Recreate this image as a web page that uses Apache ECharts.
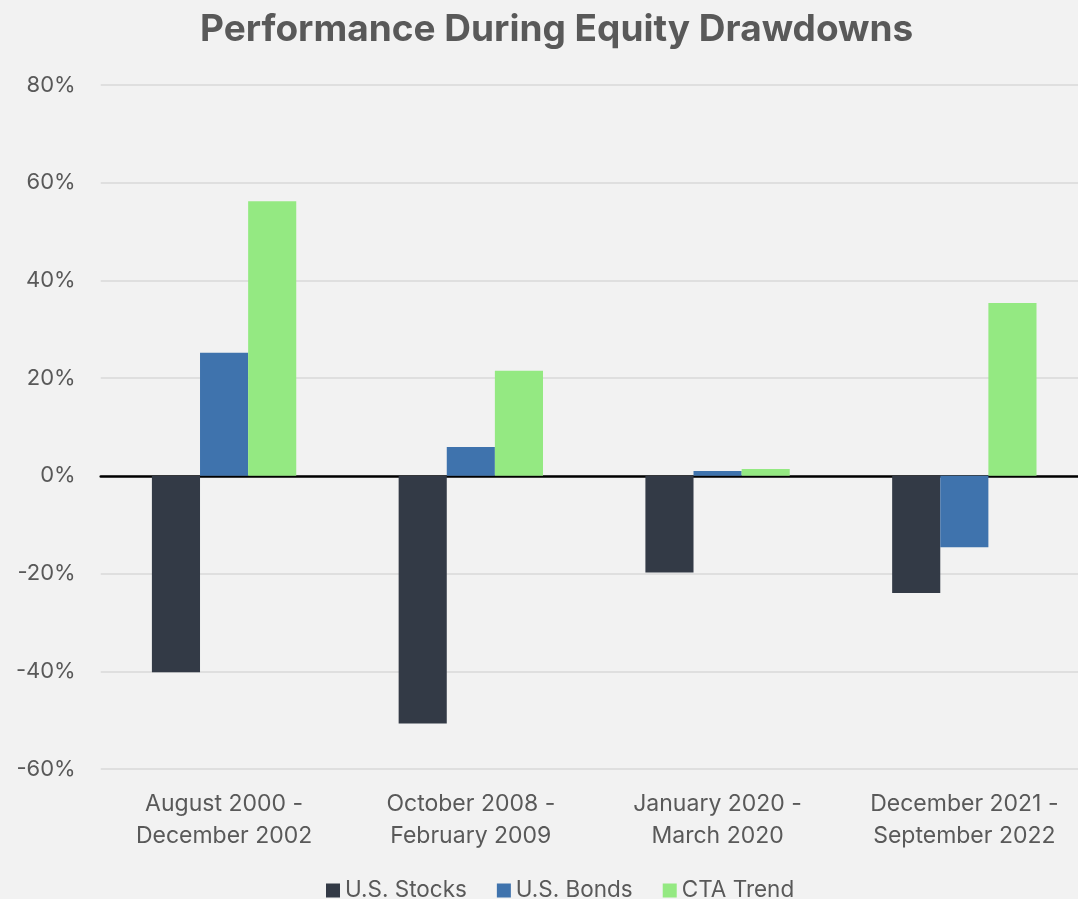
<!DOCTYPE html>
<html><head><meta charset="utf-8">
<script src="https://cdn.jsdelivr.net/npm/echarts@6/dist/echarts.min.js"></script>
<style>html,body{margin:0;padding:0;background:#f2f2f2;overflow:hidden;width:1078px;height:899px;}#c{width:1100px;height:899px;}</style>
</head><body><div id="c"></div>
<script>
const categories = ['August 2000 -\nDecember 2002', 'October 2008 -\nFebruary 2009', 'January 2020 -\nMarch 2020', 'December 2021 -\nSeptember 2022'];
const usStocks = [-40.2, -50.7, -19.8, -24.0];
const usBonds = [25.2, 5.9, 1.0, -14.6];
const ctaTrend = [56.2, 21.5, 1.4, 35.4];
const yTicks = { min: -60, max: 80, interval: 20 };

const font = 'Inter, "DejaVu Sans", sans-serif';
const chart = echarts.init(document.getElementById('c'));
chart.setOption({
  backgroundColor: '#f2f2f2',
  animation: false,
  textStyle: { fontFamily: font },
  title: {
    text: 'Performance During Equity Drawdowns',
    left: 195, top: 6,
    textStyle: { fontFamily: font, fontSize: 37, fontWeight: 700, color: '#595959' }
  },
  legend: {
    top: 874, left: 321,
    itemWidth: 14, itemHeight: 14, itemGap: 30,
    icon: 'rect',
    textStyle: { fontFamily: font, fontSize: 22.5, color: '#595959' },
    data: ['U.S. Stocks', 'U.S. Bonds', 'CTA Trend']
  },
  grid: { left: 100.7, top: 85, width: 987, bottom: 130, containLabel: false },
  xAxis: {
    type: 'category', data: categories,
    axisLine: { onZero: true, lineStyle: { color: '#000', width: 2.5 } },
    axisTick: { show: false },
    axisLabel: { fontFamily: font, fontSize: 23, color: '#595959', lineHeight: 32, margin: 19, interval: 0 }
  },
  yAxis: {
    type: 'value', min: yTicks.min, max: yTicks.max, interval: yTicks.interval,
    axisLine: { show: false }, axisTick: { show: false },
    axisLabel: { formatter: '{value}%', fontFamily: font, fontSize: 22, color: '#595959', margin: 25 },
    splitLine: { lineStyle: { color: '#d9d9d9', width: 1.5 } }
  },
  series: [
    { name: 'U.S. Stocks', type: 'bar', data: usStocks, itemStyle: { color: '#333a46' }, barGap: '0%', barCategoryGap: '41.5%' },
    { name: 'U.S. Bonds', type: 'bar', data: usBonds, itemStyle: { color: '#3f73ad' } },
    { name: 'CTA Trend', type: 'bar', data: ctaTrend, itemStyle: { color: '#94e982' } }
  ]
});
</script></body></html>
